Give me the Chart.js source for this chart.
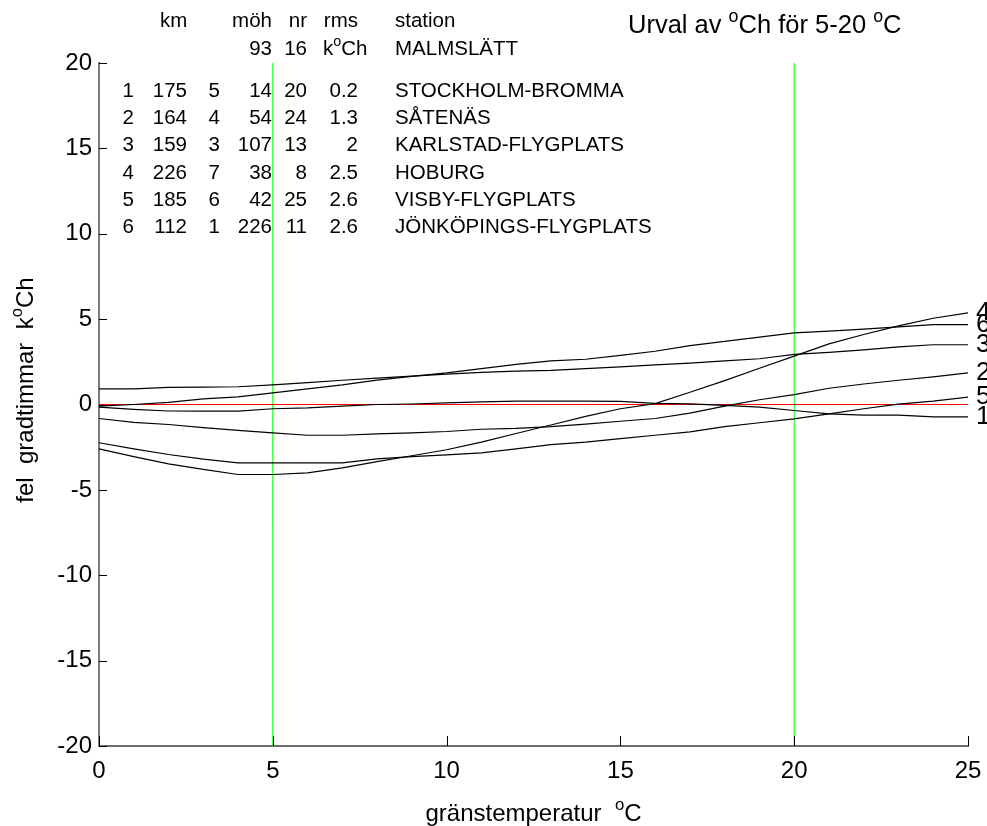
<!DOCTYPE html>
<html>
<head>
<meta charset="utf-8">
<script src="https://cdn.jsdelivr.net/npm/chart.js@4"></script>
<style>
  html, body { margin: 0; padding: 0; background: #fff; }
  canvas { display: block; }
</style>
</head>
<body>
<canvas id="graf" width="987" height="826"></canvas>
<script>
/* global Chart */
const FONT = '"Liberation Sans", Arial, Helvetica, sans-serif'

// gränstemperatur (x)
const temps = [0, 1, 2, 3, 4, 5, 6, 7, 8, 9, 10, 11, 12, 13, 14, 15, 16, 17, 18, 19, 20, 21, 22, 23, 24, 25]

// fel i gradtimmar per station (nummer 1-6 som i tabellen)
const fel1 = [-0.15, -0.28, -0.38, -0.39, -0.39, -0.25, -0.2, -0.1, 0.0, 0.03, 0.1, 0.15, 0.2, 0.2, 0.2, 0.18, 0.07, 0.04, -0.05, -0.15, -0.35, -0.55, -0.62, -0.62, -0.72, -0.72]
const fel2 = [-0.82, -1.05, -1.17, -1.35, -1.52, -1.66, -1.8, -1.8, -1.72, -1.66, -1.58, -1.45, -1.4, -1.3, -1.15, -0.98, -0.82, -0.5, -0.1, 0.28, 0.58, 0.95, 1.2, 1.42, 1.62, 1.85]
const fel3 = [0.92, 0.92, 1.0, 1.02, 1.04, 1.15, 1.28, 1.42, 1.55, 1.66, 1.78, 1.88, 1.95, 2.0, 2.1, 2.2, 2.32, 2.42, 2.55, 2.68, 2.93, 3.05, 3.2, 3.38, 3.5, 3.5]
const fel4 = [-2.6, -3.05, -3.48, -3.8, -4.1, -4.1, -4.0, -3.71, -3.35, -3.0, -2.65, -2.2, -1.7, -1.2, -0.7, -0.25, 0.05, 0.72, 1.4, 2.12, 2.83, 3.55, 4.1, 4.6, 5.05, 5.37]
const fel5 = [-2.24, -2.6, -2.93, -3.2, -3.42, -3.42, -3.42, -3.42, -3.18, -3.05, -2.95, -2.83, -2.6, -2.35, -2.2, -2.0, -1.8, -1.6, -1.3, -1.07, -0.84, -0.55, -0.25, 0.02, 0.2, 0.43]
const fel6 = [-0.1, 0.0, 0.12, 0.33, 0.45, 0.68, 0.92, 1.15, 1.43, 1.65, 1.85, 2.1, 2.35, 2.55, 2.65, 2.88, 3.12, 3.45, 3.7, 3.95, 4.2, 4.3, 4.42, 4.55, 4.68, 4.68]
const serier = [fel1, fel2, fel3, fel4, fel5, fel6]

// urvalsintervall och nollinje
const urval = [5, 20]
const yRange = [-20, 20]

// tabellen överst
const nummer = ['1', '2', '3', '4', '5', '6']
const km = ['175', '164', '159', '226', '185', '112']
const rang = ['5', '4', '3', '7', '6', '1']
const moh = ['14', '54', '107', '38', '42', '226']
const nr = ['20', '24', '13', '8', '25', '11']
const rms = ['0.2', '1.3', '2', '2.5', '2.6', '2.6']
const stationer = ['STOCKHOLM-BROMMA', 'SÅTENÄS', 'KARLSTAD-FLYGPLATS', 'HOBURG', 'VISBY-FLYGPLATS', 'JÖNKÖPINGS-FLYGPLATS']
const refStation = ['93', '16', 'MALMSLÄTT']

/* Skriver text med upphöjda delar, delar som börjar med ^ blir upphöjda */
function richText(ctx, parts, x, y, size, align) {
  let w = 0
  const items = parts.map((p) => {
    const sup = p.startsWith("^")
    const t = sup ? p.slice(1) : p
    const fs = sup ? size * 0.7 : size
    ctx.font = fs + "px " + FONT
    const tw = ctx.measureText(t).width
    w += tw
    return { t, fs, sup, tw }
  })
  let cx = align === "center" ? x - w / 2 : align === "right" ? x - w : x
  ctx.textAlign = "left"
  ctx.textBaseline = "alphabetic"
  for (const it of items) {
    ctx.font = it.fs + "px " + FONT
    ctx.fillText(it.t, cx, it.sup ? y - size * 0.45 : y)
    cx += it.tw
  }
}

function line(ctx, x1, y1, x2, y2) {
  ctx.beginPath()
  ctx.moveTo(x1, y1)
  ctx.lineTo(x2, y2)
  ctx.stroke()
}

const dekor = {
  id: "dekor",
  afterDraw(chart) {
    const { ctx, chartArea: a, scales } = chart
    ctx.save()
    ctx.fillStyle = "#000"
    ctx.strokeStyle = "#000"
    ctx.lineWidth = 1

    // tickmarkeringar inåt som i matlab
    for (const t of scales.y.ticks) {
      const py = Math.round(scales.y.getPixelForValue(t.value)) + 0.5
      line(ctx, a.left, py, a.left + 8, py)
    }
    for (const t of scales.x.ticks) {
      const px = Math.round(scales.x.getPixelForValue(t.value)) + 0.5
      line(ctx, px, a.bottom, px, a.bottom - 10)
    }

    // etiketter vid kurvornas slut
    ctx.font = "26px " + FONT
    ctx.textAlign = "left"
    ctx.textBaseline = "middle"
    serier.forEach((s, i) => {
      const pts = chart.getDatasetMeta(i).data
      const last = pts[pts.length - 1]
      ctx.fillText(nummer[i], last.x + 8, last.y)
    })

    // tabell
    const fs = 20.5
    ctx.font = fs + "px " + FONT
    ctx.textBaseline = "alphabetic"
    const cols = [134, 187, 220, 272, 307, 358]
    const stX = 395
    const y0 = 96.7
    const dy = 27.3
    ctx.textAlign = "left"
    ctx.fillText("km", 160, 27)
    ctx.textAlign = "right"
    ctx.fillText("möh", 272, 27)
    ctx.fillText("nr", 307, 27)
    ctx.fillText("rms", 358, 27)
    ctx.textAlign = "left"
    ctx.fillText("station", stX, 27)

    ctx.textAlign = "right"
    ctx.fillText(refStation[0], 272, 55)
    ctx.fillText(refStation[1], 307, 55)
    richText(ctx, ["k", "^o", "Ch"], 323, 55, fs, "left")
    ctx.font = fs + "px " + FONT
    ctx.textAlign = "left"
    ctx.fillText(refStation[2], stX, 55)

    for (let i = 0; i < stationer.length; i++) {
      const by = y0 + i * dy
      const rad = [nummer[i], km[i], rang[i], moh[i], nr[i], rms[i]]
      ctx.textAlign = "right"
      rad.forEach((v, j) => ctx.fillText(v, cols[j], by))
      ctx.textAlign = "left"
      ctx.fillText(stationer[i], stX, by)
    }

    // rubrik
    richText(ctx, ["Urval av ", "^o", "Ch för 5-20 ", "^o", "C"], 628, 33, 25.5, "left")

    // axeltitlar
    richText(ctx, ["gränstemperatur  ", "^o", "C"], (a.left + a.right) / 2, 821, 24, "center")
    ctx.translate(33, 390)
    ctx.rotate(-Math.PI / 2)
    richText(ctx, ["fel  gradtimmar  k", "^o", "Ch"], 0, 0, 24, "center")
    ctx.restore()
  },
}

const datasets = serier.map((s, i) => ({
  label: stationer[i],
  data: temps.map((t, k) => ({ x: t, y: s[k] })),
  borderColor: "#000",
  borderWidth: 1.2,
  pointRadius: 0,
  tension: 0,
}))

datasets.push({
  label: "noll",
  data: [{ x: temps[0], y: 0 }, { x: temps[temps.length - 1], y: 0 }],
  borderColor: "#ff0000",
  borderWidth: 1,
  pointRadius: 0,
})
for (const u of urval) {
  datasets.push({
    label: "urval " + u,
    data: [{ x: u, y: yRange[0] }, { x: u, y: yRange[1] }],
    borderColor: "#00ff00",
    borderWidth: 1,
    pointRadius: 0,
  })
}

new Chart(document.querySelector("#graf"), {
  type: "line",
  data: { datasets },
  options: {
    responsive: false,
    animation: false,
    devicePixelRatio: 1,
    layout: { padding: { top: 63, right: 19, left: 0, bottom: 0 } },
    plugins: { legend: { display: false }, tooltip: { enabled: false } },
    scales: {
      x: {
        type: "linear",
        min: 0,
        max: 25,
        ticks: { stepSize: 5, color: "#000", padding: 11, font: { size: 24, family: FONT } },
        grid: { display: false, drawTicks: false },
        border: { display: true, color: "#6e6e6e", width: 2 },
        afterFit: (scale) => {
          scale.height = 80
          scale.paddingLeft = 0
          scale.paddingRight = 0
        },
      },
      y: {
        min: yRange[0],
        max: yRange[1],
        ticks: { stepSize: 5, color: "#000", padding: 7, font: { size: 24, family: FONT } },
        grid: { display: false, drawTicks: false },
        border: { display: true, color: "#7a7a7a", width: 2 },
        afterFit: (scale) => { scale.width = 99 },
      },
    },
  },
  plugins: [dekor],
})
</script>
</body>
</html>
